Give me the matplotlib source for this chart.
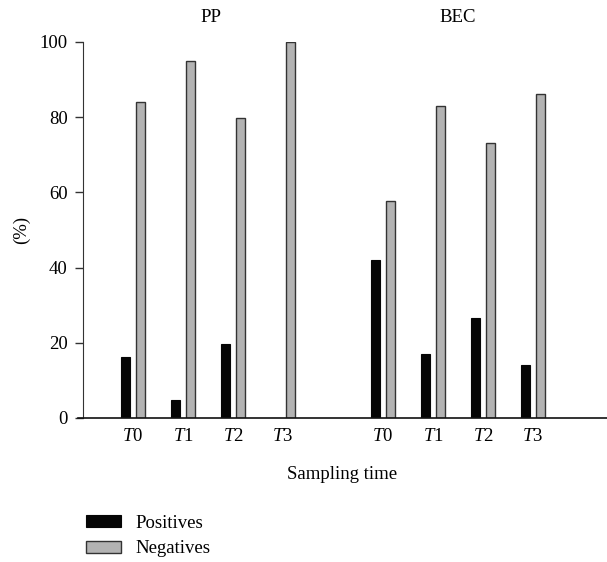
import numpy as np
import matplotlib.pyplot as plt

plt.rcParams['font.family'] = ['Liberation Serif', 'DejaVu Serif']
plt.rcParams['mathtext.fontset'] = 'custom'
plt.rcParams['mathtext.it'] = 'Liberation Serif:italic'
plt.rcParams['mathtext.rm'] = 'Liberation Serif'

# Data
groups = ["PP", "BEC"]
times = ["T0", "T1", "T2", "T3"]
positives_pp = [16.2, 4.8, 19.7, 0.0]
negatives_pp = [84.0, 95.0, 79.7, 100.0]
positives_bec = [42.0, 17.0, 26.6, 14.0]
negatives_bec = [57.8, 83.0, 73.2, 86.2]

positives = positives_pp + positives_bec
negatives = negatives_pp + negatives_bec
x = np.array([0, 1, 2, 3, 5, 6, 7, 8])
tick_labels = [r"$\mathit{T}$" + t[1:] for t in times] * 2

fs = 13.5

fig = plt.figure(figsize=(6.07, 5.62), dpi=100)
ax = fig.add_axes([78 / 607, 1 - 418 / 562, 1 - 78 / 607, (418 - 42) / 562])

w = 0.17
ax.bar(x - 0.15, positives, width=w, color="#050505", edgecolor="#050505",
       linewidth=0.8, label="Positives")
ax.bar(x + 0.15, negatives, width=w, color="#b3b3b3", edgecolor="#333333",
       linewidth=1.0, label="Negatives")

ax.set_xlim(-1.1, 9.48)
ax.set_ylim(0, 100)
ax.set_yticks([0, 20, 40, 60, 80, 100])
ax.set_xticks(x)
ax.set_xticklabels(tick_labels, fontsize=fs)
ax.tick_params(axis="x", length=0, pad=7)
ax.tick_params(axis="y", direction="out", length=6, width=1, labelsize=fs,
               color="#333333", pad=5)

for s in ["top", "right"]:
    ax.spines[s].set_visible(False)
ax.spines["left"].set_position(("data", -1.0))
ax.spines["left"].set_color("#333333")
ax.spines["bottom"].set_color("#111111")
ax.spines["bottom"].set_linewidth(1.2)

ax.set_ylabel("(%)", fontsize=fs, labelpad=7)
ax.set_xlabel("Sampling time", fontsize=fs, labelpad=15)

ax.text(x[:4].mean() + 0.05, 1.064, groups[0], transform=ax.get_xaxis_transform(),
        ha="center", va="center", fontsize=fs)
ax.text(x[4:].mean(), 1.064, groups[1], transform=ax.get_xaxis_transform(),
        ha="center", va="center", fontsize=fs)

fig.legend(loc="upper left", bbox_to_anchor=(71 / 607, 1 - 500 / 562),
           frameon=False, fontsize=fs, handlelength=1.87, handleheight=0.59,
           labelspacing=0.45, handletextpad=0.75, borderpad=0.3)

fig.savefig("out.png", dpi=100)
